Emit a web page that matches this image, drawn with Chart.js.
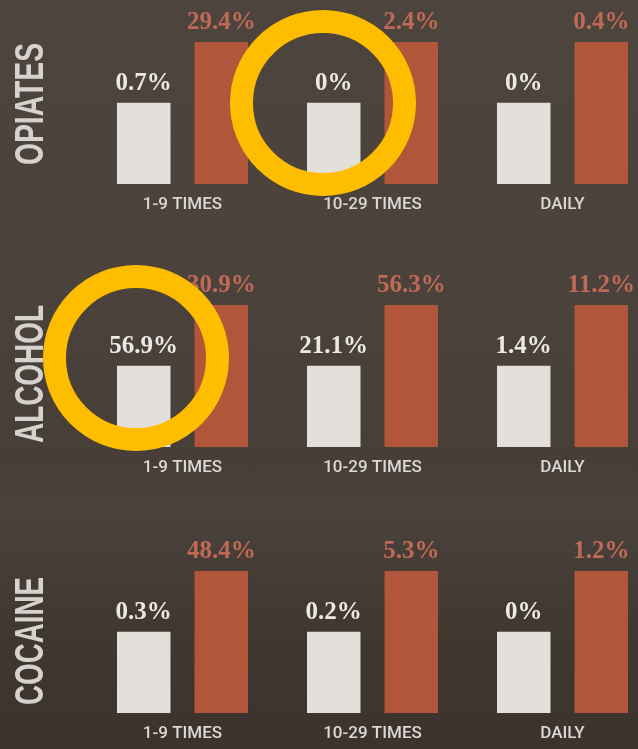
<!DOCTYPE html>
<html>
<head>
<meta charset="utf-8">
<script src="https://cdn.jsdelivr.net/npm/chart.js@4.4.1/dist/chart.umd.min.js"></script>
<style>
  html, body { margin: 0; padding: 0; width: 638px; height: 749px; overflow: hidden; }
  body {
    background: linear-gradient(180deg, #4d443e 0%, #4b423c 40%, #473e38 62%, #4a423d 68%, #40372f 85%, #3c332e 100%);
    position: relative;
  }
  .panel { position: absolute; left: 0; width: 660px; height: 230px; }
  .ring {
    position: absolute; width: 186px; height: 186px; box-sizing: border-box;
    border: 23px solid #ffbd00; border-radius: 50%;
  }
</style>
</head>
<body>
<div class="panel" style="top:0px"><canvas id="c0" width="660" height="230"></canvas></div>
<div class="panel" style="top:263px"><canvas id="c1" width="660" height="230"></canvas></div>
<div class="panel" style="top:529px"><canvas id="c2" width="660" height="230"></canvas></div>
<div class="ring" style="left:230px; top:10px;"></div>
<div class="ring" style="left:43px; top:265px;"></div>
<script>
// ---- data ----
const categories = ["1-9 TIMES", "10-29 TIMES", "DAILY"];
const titles = ["OPIATES", "ALCOHOL", "COCAINE"];

const opiatesWhite = [0.7, 0, 0];
const opiatesOrange = [29.4, 2.4, 0.4];
const alcoholWhite = [56.9, 21.1, 1.4];
const alcoholOrange = [30.9, 56.3, 11.2];
const cocaineWhite = [0.3, 0.2, 0];
const cocaineOrange = [48.4, 5.3, 1.2];

// bars in the graphic are drawn at fixed heights (not proportional)
const whiteBarLevel = [4, 4, 4];
const orangeBarLevel = [7, 7, 7];

const whiteSeries = [opiatesWhite, alcoholWhite, cocaineWhite];
const orangeSeries = [opiatesOrange, alcoholOrange, cocaineOrange];

// ---- styling ----
const titleGeom = [
  { cy: 104, len: 122 },
  { cy: 111, len: 138 },
  { cy: 112, len: 128 }
];

const valueLabels = {
  id: 'valueLabels',
  afterDatasetsDraw(chart) {
    const ctx = chart.ctx;
    ctx.save();
    ctx.font = "bold 25px 'Liberation Serif', 'Times New Roman', serif";
    ctx.textAlign = 'center';
    ctx.textBaseline = 'alphabetic';
    chart.data.datasets.forEach((ds, i) => {
      const meta = chart.getDatasetMeta(i);
      ctx.fillStyle = ds.labelColor;
      meta.data.forEach((bar, j) => {
        ctx.fillText(ds.pct[j] + '%', bar.x, bar.y - 13);
      });
    });
    ctx.restore();
  }
};

const sideTitle = {
  id: 'sideTitle',
  afterDraw(chart, args, opts) {
    const ctx = chart.ctx;
    ctx.save();
    ctx.font = "bold 41px 'Liberation Sans', Arial, sans-serif";
    const w = ctx.measureText(opts.text).width;
    ctx.translate(opts.cx, opts.cy);
    ctx.rotate(-Math.PI / 2);
    ctx.scale(opts.len / w, 1);
    ctx.fillStyle = '#d6d2ce';
    ctx.textAlign = 'center';
    ctx.textBaseline = 'alphabetic';
    ctx.fillText(opts.text, 0, 15);
    ctx.restore();
  }
};

for (let p = 0; p < 3; p++) {
  new Chart(document.getElementById('c' + p), {
    type: 'bar',
    data: {
      labels: categories,
      datasets: [
        {
          data: whiteBarLevel,
          pct: whiteSeries[p],
          backgroundColor: '#e3dfdb',
          labelColor: '#ece8e4',
          borderWidth: 0,
          barPercentage: 0.69,
          categoryPercentage: 0.816
        },
        {
          data: orangeBarLevel,
          pct: orangeSeries[p],
          backgroundColor: '#b1563a',
          labelColor: '#bf6a57',
          borderWidth: 0,
          barPercentage: 0.69,
          categoryPercentage: 0.816
        }
      ]
    },
    options: {
      responsive: false,
      animation: false,
      devicePixelRatio: 1,
      layout: { padding: { left: 87.5, right: 2.5, top: 42, bottom: 6 } },
      plugins: {
        legend: { display: false },
        tooltip: { enabled: false },
        sideTitle: { text: titles[p], cx: 28, cy: titleGeom[p].cy, len: titleGeom[p].len }
      },
      scales: {
        x: {
          grid: { display: false, drawTicks: false },
          border: { display: false },
          ticks: { color: '#dcd8d4', font: { family: 'Roboto', size: 17, weight: '500' }, padding: 11 },
          afterFit(s) { s.height = 40; }
        },
        y: { display: false, min: 0, max: 7 }
      }
    },
    plugins: [valueLabels, sideTitle]
  });
}
</script>
</body>
</html>
